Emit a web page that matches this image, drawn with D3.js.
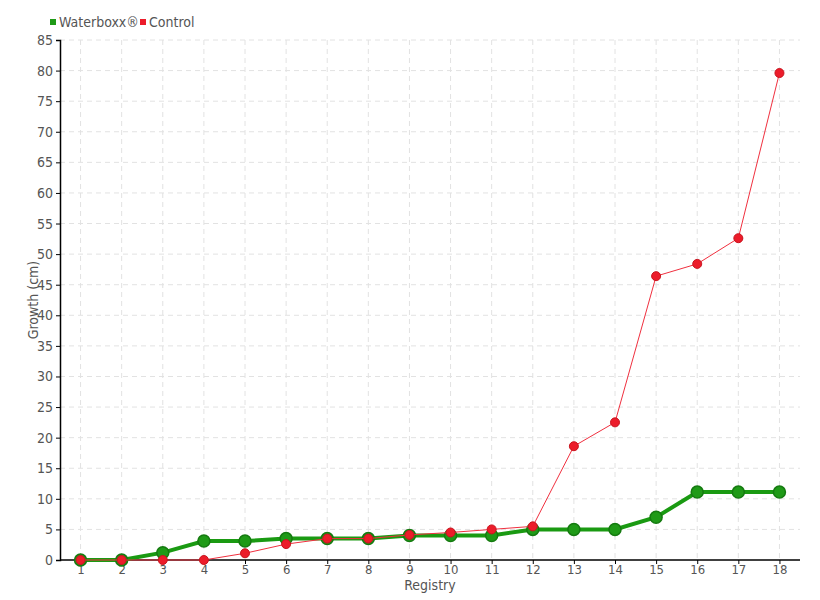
<!DOCTYPE html>
<html><head><meta charset="utf-8">
<script src="https://cdn.jsdelivr.net/npm/d3@7"></script>
<style>body{margin:0;background:#fff}svg{display:block}text{font-family:"DejaVu Sans",sans-serif;font-stretch:condensed;fill:#555}</style>
</head><body><svg id="c" width="820" height="600"></svg>
<script>
const categories = ["1","2","3","4","5","6","7","8","9","10","11","12","13","14","15","16","17","18"];
const waterboxx = [0,0,1.2,3.1,3.1,3.5,3.5,3.5,4.0,4.0,4.0,5.0,5.0,5.0,7.0,11.1,11.1,11.1];
const control = [0,0,0,0,1.1,2.6,3.5,3.5,4.1,4.5,5.0,5.5,18.6,22.5,46.4,48.4,52.6,79.6];
const yTicks = d3.range(0, 86, 5);
const seriesNames = ["Waterboxx®", "Control"];

const svg = d3.select("#c");
const L = 60, R = 800, T = 40, B = 560;
const x = d3.scalePoint().domain(categories).range([L, R]).padding(0.5);
const y = d3.scaleLinear().domain([0, 85]).range([B, T]);

// grid
const g = svg.append("g");
g.selectAll("line.h").data(yTicks.slice(1)).join("line")
  .attr("x1", L).attr("x2", R).attr("y1", d => y(d)).attr("y2", d => y(d))
  .attr("stroke", "#e2e2e2").attr("stroke-dasharray", "5,4");
g.selectAll("line.v").data(categories).join("line")
  .attr("x1", d => x(d)).attr("x2", d => x(d)).attr("y1", T).attr("y2", B)
  .attr("stroke", "#e2e2e2").attr("stroke-dasharray", "5,4");

// axes
const ya = svg.append("g").attr("transform", `translate(${L},0)`)
  .call(d3.axisLeft(y).tickValues(yTicks).tickSize(4).tickPadding(3));
ya.select(".domain").attr("stroke", "#000").attr("stroke-width", 1.5);
ya.selectAll(".tick line").attr("stroke", "#000");
ya.selectAll("text").attr("font-size", 14).attr("fill", "#555");

const xa = svg.append("g").attr("transform", `translate(0,${B})`)
  .call(d3.axisBottom(x).tickSize(4).tickPadding(1).tickSizeOuter(0));
xa.select(".domain").attr("stroke", "#000").attr("stroke-width", 1.5).attr("d", `M${L},0H${R}`);
xa.selectAll(".tick line").attr("stroke", "#000");
xa.selectAll("text").attr("font-size", 13).attr("fill", "#555");

svg.append("text").attr("x", 430).attr("y", 590).attr("text-anchor", "middle")
  .attr("font-size", 14).text("Registry");
svg.append("text").attr("transform", "translate(38,300) rotate(-90)").attr("text-anchor", "middle")
  .attr("font-size", 14).text("Growth (cm)");

// lines
const line = d3.line().x((d, i) => x(categories[i])).y(d => y(d));
svg.append("path").datum(waterboxx).attr("d", line).attr("fill", "none")
  .attr("stroke", "#1a9a12").attr("stroke-width", 4);
svg.append("g").selectAll("circle").data(waterboxx).join("circle")
  .attr("cx", (d, i) => x(categories[i])).attr("cy", d => y(d)).attr("r", 6)
  .attr("fill", "#1f9a17").attr("stroke", "#157a10").attr("stroke-width", 1.5);

svg.append("path").datum(control).attr("d", line).attr("fill", "none")
  .attr("stroke", "#f0303f").attr("stroke-width", 1);
svg.append("g").selectAll("circle").data(control).join("circle")
  .attr("cx", (d, i) => x(categories[i])).attr("cy", d => y(d)).attr("r", 4.5)
  .attr("fill", "#ec1c2a").attr("stroke", "#c8141e").attr("stroke-width", 1);

// legend
const colors = ["#1f9a17", "#ec1c2a"];
const lx = [50, 140];
const lg = svg.append("g").selectAll("g").data(seriesNames).join("g")
  .attr("transform", (d, i) => `translate(${lx[i]},22)`);
lg.append("rect").attr("x", 0).attr("y", -3).attr("width", 6).attr("height", 6)
  .attr("fill", (d, i) => colors[i]);
lg.append("text").attr("x", 9).attr("y", 5).attr("font-size", 14).text(d => d);
</script></body></html>
